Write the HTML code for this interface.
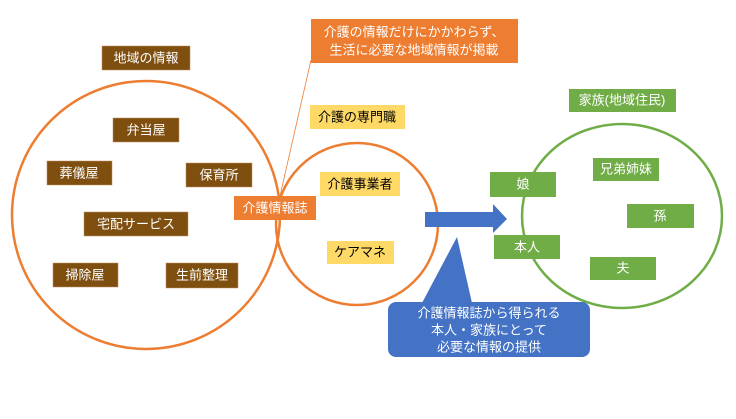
<!DOCTYPE html>
<html><head><meta charset="utf-8"><style>
html,body{margin:0;padding:0;background:#fff;}
svg text{font-family:"Liberation Sans","Noto Sans CJK JP",sans-serif;font-size:13px;text-anchor:middle;dominant-baseline:central;}
</style></head><body>
<svg width="736" height="414" viewBox="0 0 736 414" xmlns="http://www.w3.org/2000/svg">
<rect width="736" height="414" fill="#fff"/>
<circle cx="146" cy="215" r="134" fill="none" stroke="#ED7D31" stroke-width="2.5"/>
<circle cx="357" cy="224" r="81" fill="none" stroke="#ED7D31" stroke-width="2.5"/>
<ellipse cx="622" cy="216" rx="100" ry="92" fill="none" stroke="#70AD47" stroke-width="2.5"/>
<line x1="311" y1="60" x2="280" y2="196" stroke="#ED7D31" stroke-width="0.8"/>
<g fill="#7F4F10" stroke="#C09060" stroke-width="0.5">
<rect x="102" y="46" width="88" height="24"/>
<rect x="113" y="118" width="66" height="24"/>
<rect x="47" y="161" width="65" height="24"/>
<rect x="186" y="163" width="66" height="24"/>
<rect x="84" y="212" width="104" height="24"/>
<rect x="53" y="263" width="65" height="24"/>
<rect x="166" y="263" width="72" height="25"/>
</g>
<g fill="#fff">
<text x="146" y="58">地域の情報</text>
<text x="146" y="130">弁当屋</text>
<text x="79" y="173">葬儀屋</text>
<text x="219" y="175">保育所</text>
<text x="136" y="224">宅配サービス</text>
<text x="85" y="275">掃除屋</text>
<text x="202" y="275">生前整理</text>
</g>
<rect x="311" y="19" width="207" height="44" fill="#ED7D31"/>
<text x="414" y="32" fill="#fff">介護の情報だけにかかわらず、</text>
<text x="414" y="50" fill="#fff">生活に必要な地域情報が掲載</text>
<rect x="234" y="196" width="82" height="24" fill="#ED7D31"/>
<text x="275" y="208" fill="#fff">介護情報誌</text>
<g fill="#FFD966">
<rect x="310" y="105" width="95" height="24"/>
<rect x="320" y="172" width="80" height="24"/>
<rect x="327" y="241" width="67" height="23"/>
</g>
<g fill="#000">
<text x="357" y="117">介護の専門職</text>
<text x="360" y="184">介護事業者</text>
<text x="360" y="252">ケアマネ</text>
</g>
<polygon points="425,212 493,212 493,204 507,219 493,233 493,227 425,227" fill="#4472C4"/>
<polygon points="422,303 457,237 472,303" fill="#4472C4"/>
<rect x="388" y="302" width="202" height="55" rx="8" fill="#4472C4"/>
<g fill="#fff">
<text x="489" y="313">介護情報誌から得られる</text>
<text x="489" y="330">本人・家族にとって</text>
<text x="489" y="347">必要な情報の提供</text>
</g>
<g fill="#70AD47">
<rect x="569" y="89" width="107" height="23"/>
<rect x="593" y="158" width="66" height="23"/>
<rect x="490" y="172" width="66" height="25"/>
<rect x="627" y="204" width="67" height="24"/>
<rect x="494" y="235" width="66" height="24"/>
<rect x="590" y="257" width="66" height="23"/>
</g>
<g fill="#fff">
<text x="622" y="100">家族(地域住民)</text>
<text x="626" y="169">兄弟姉妹</text>
<text x="523" y="184">娘</text>
<text x="660" y="216">孫</text>
<text x="527" y="247">本人</text>
<text x="623" y="268">夫</text>
</g>
</svg>
</body></html>
